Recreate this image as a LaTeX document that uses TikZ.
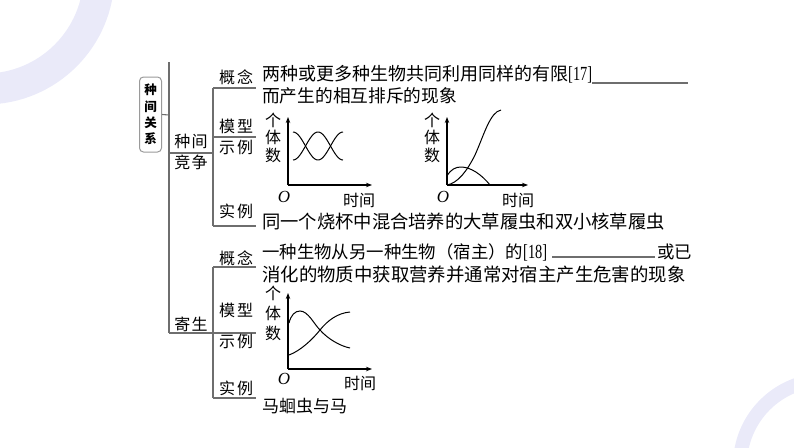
\documentclass[tikz,border=0pt]{standalone}
\usepackage{fontspec}
\usepackage{graphicx}
\setmainfont{Liberation Serif}
\newfontfamily\cjk{Noto Sans CJK SC}
\usetikzlibrary{arrows.meta}
\definecolor{ringcol}{HTML}{EAEAF9}
\definecolor{treegray}{HTML}{6E6E6E}
\definecolor{boxgray}{HTML}{9A9A9A}
\begin{document}
\begin{tikzpicture}[x=1pt,y=-1pt,
  treeline/.style={draw=treegray,line width=1.1pt},
  mtext/.style={font=\cjk\fontsize{#1}{#1}\selectfont,inner sep=0pt,anchor=base west},
  ltext/.style={font=\fontsize{20}{20}\selectfont,inner sep=0pt,anchor=base west},
  lbl/.style={font=\cjk\fontsize{16}{16}\selectfont,inner sep=0pt},
  axisline/.style={line width=1.1pt,-{Stealth[length=6pt,width=4.5pt]}},
  curveline/.style={line width=1pt},
  ytext/.style={font=\cjk\fontsize{16}{#1}\selectfont,align=center,inner sep=0pt},
  xtext/.style={font=\cjk\fontsize{16}{16}\selectfont,inner sep=0pt},
  otext/.style={font=\itshape\fontsize{17}{17}\selectfont,inner sep=0pt},
  blank/.style={draw=treegray,line width=1.3pt},
  relbox/.style={draw=boxgray,line width=1pt,rounded corners=4pt,minimum width=22pt,minimum height=75pt,inner sep=0pt,align=center,font=\cjk\bfseries\fontsize{12.5}{16.3}\selectfont}
]
\useasboundingbox (0,0) rectangle (794,447);
% background rings
\begin{scope}
  \clip (0,0) rectangle (794,447);
  \draw[ringcol,line width=31pt] (-15,-25) circle[radius=114];
  \draw[ringcol,line width=14pt] (825,465) circle[radius=85];
\end{scope}

% root box
\node[relbox] (rel) at (150.5,114.5) {种\\间\\关\\系};

% tree coordinates
\coordinate (j0) at (169,115);
\coordinate (t0) at (169,62);
\coordinate (t1) at (169,153);
\coordinate (t2) at (169,333);
\coordinate (c1) at (213,153);
\coordinate (c1a) at (213,88);
\coordinate (c1b) at (213,137);
\coordinate (c1c) at (213,226);
\coordinate (e1a) at (256,88);
\coordinate (e1b) at (256,137);
\coordinate (e1c) at (256,226);
\coordinate (c2a) at (213,267);
\coordinate (c2b) at (213,333);
\coordinate (c2c) at (213,398);
\coordinate (e2a) at (256,267);
\coordinate (e2b) at (256,333);
\coordinate (e2c) at (256,398);

\draw[treeline] (rel.east) -- (j0);
\draw[treeline] (t0) -- (t2);
\draw[treeline] (t1) -- (c1);
\draw[treeline] (c1a) -- (c1c);
\draw[treeline] (c1a) -- (e1a);
\draw[treeline] (c1b) -- (e1b);
\draw[treeline] (c1c) -- (e1c);
\draw[treeline] (t2) -- (c2b);
\draw[treeline] (c2a) -- (c2c);
\draw[treeline] (c2a) -- (e2a);
\draw[treeline] (c2b) -- (e2b);
\draw[treeline] (c2c) -- (e2c);

% tree labels
\node[lbl] (jz1) at (191,141.5) {种\hspace{1.5pt}间};
\node[lbl] (jz2) at (191,162.5) {竞\hspace{1.5pt}争};
\node[lbl] (js) at (191,324) {寄\hspace{1.5pt}生};
\node[lbl] (g1) at (236,77) {概\hspace{2pt}念};
\node[lbl] (m1) at (236,126.5) {模\hspace{2pt}型};
\node[lbl] (s1) at (236,147.5) {示\hspace{2pt}例};
\node[lbl] (r1) at (236,211.5) {实\hspace{2pt}例};
\node[lbl] (g2) at (236,258) {概\hspace{2pt}念};
\node[lbl] (m2) at (236,310.5) {模\hspace{2pt}型};
\node[lbl] (s2) at (236,341.5) {示\hspace{2pt}例};
\node[lbl] (r2) at (236,388.5) {实\hspace{2pt}例};

% competition concept
\node[mtext=18] (l11) at (262,80.3) {两种或更多种生物共同利用同样的有限};
\node[ltext] (n17) at (568,80.3) {\scalebox{0.72}[1]{[17]}};
\coordinate (u1a) at (592,83);
\coordinate (u1b) at (688,83);
\draw[blank] (u1a) -- (u1b);
\node[mtext=17.7] (l12) at (262,102.7) {而产生的相互排斥的现象};

% graph 1
\coordinate (o1) at (288,185);
\coordinate (ya1) at (288,117);
\coordinate (xa1) at (372,185);
\draw[axisline] (o1) -- (ya1);
\draw[axisline] (o1) -- (xa1);
\node[ytext=17.5] (yl1) at (273,137.5) {个\\体\\数};
\node[otext] (ol1) at (284,197) {O};
\node[xtext] (xl1) at (359,200) {时间};
\draw[curveline] plot[domain=293:343,samples=80,smooth] (\x,{146-14*cos(7.2*(\x-293))});
\draw[curveline] plot[domain=293:343,samples=80,smooth] (\x,{146+14*cos(7.2*(\x-293))});

% graph 2
\coordinate (o2) at (447,185);
\coordinate (ya2) at (447,117);
\coordinate (xa2) at (528,185);
\draw[axisline] (o2) -- (ya2);
\draw[axisline] (o2) -- (xa2);
\node[ytext=17.5] (yl2) at (432,137.5) {个\\体\\数};
\node[otext] (ol2) at (443,197) {O};
\node[xtext] (xl2) at (518,200) {时间};
\draw[curveline] (447,185) .. controls (458,183) and (467,171) .. (475,155)
  .. controls (484,135) and (490,112) .. (501,110);
\draw[curveline] (447,176) .. controls (451,169) and (456,167) .. (461,167)
  .. controls (471,167) and (482,175) .. (490,185);

% competition example
\node[mtext=18.3] (l13) at (262,228.4) {同一个烧杯中混合培养的大草履虫和双小核草履虫};

% parasitism concept
\node[mtext=17.4] (l21) at (262,258.6) {一种生物从另一种生物（宿主）的};
\node[ltext] (n18) at (523,258.6) {\scalebox{0.72}[1]{[18]}};
\coordinate (u2a) at (552,257);
\coordinate (u2b) at (655,257);
\draw[blank] (u2a) -- (u2b);
\node[mtext=17.4] (l21b) at (657,258.6) {或已};
\node[mtext=18.4] (l22) at (262,281) {消化的物质中获取营养并通常对宿主产生危害的现象};

% graph 3
\coordinate (o3) at (288,369);
\coordinate (ya3) at (288,293);
\coordinate (xa3) at (372,369);
\draw[axisline] (o3) -- (ya3);
\draw[axisline] (o3) -- (xa3);
\node[ytext=20] (yl3) at (273,313) {个\\体\\数};
\node[otext] (ol3) at (284,379) {O};
\node[xtext] (xl3) at (360,383) {时间};
\draw[curveline] (289,323) .. controls (291,315) and (295,311) .. (300,311)
  .. controls (308,311) and (314,324) .. (320,330)
  .. controls (328,339) and (340,346) .. (350,348);
\draw[curveline] (289,355) .. controls (300,351) and (312,340) .. (320,330)
  .. controls (328,320) and (338,313) .. (350,312);

% parasitism example
\node[mtext=17] (l23) at (262,412) {马蛔虫与马};
\end{tikzpicture}
\end{document}
